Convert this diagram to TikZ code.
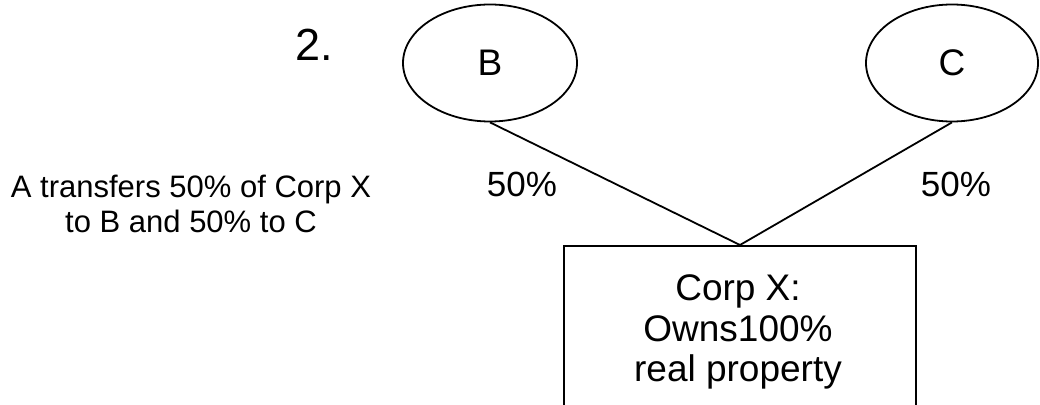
\documentclass[tikz,border=0pt]{standalone}
\usepackage{fontspec}
\setmainfont{Liberation Sans}
\usetikzlibrary{shapes.geometric}
\begin{document}
\begin{tikzpicture}[x=1pt,y=1pt,
  line/.style={draw=black, line width=1.8pt},
  owner/.style={ellipse, line, inner sep=0pt, font=\fontsize{37}{41}\selectfont},
  corpbox/.style={rectangle, line, inner sep=0pt},
  pct/.style={font=\fontsize{35}{40}\selectfont},
  note/.style={align=center, font=\fontsize{31}{35}\selectfont}]
  \useasboundingbox (0,0) rectangle (1040,404);
  \clip (0,0) rectangle (1040,404);
  \fill[white] (0,0) rectangle (1040,404);

  % step number
  \node[font=\fontsize{45}{50}\selectfont] (num) at (314,359) {2.};

  % shareholders
  \node[owner, minimum width=174pt, minimum height=117pt] (B) at (490,341) {B};
  \node[owner, minimum width=172pt, minimum height=117pt] (C) at (952,341) {C};

  % the corporation (box runs off the bottom edge)
  \node[corpbox, anchor=north, minimum width=352pt, minimum height=230pt] (X) at (740,159) {};
  \node[align=center, font=\fontsize{37}{40.3}\selectfont] (Xtext) at (738,72)
    {Corp X:\\ Owns100\%\\ real property};

  % ownership lines
  \draw[line] (B.south) -- (X.north);
  \draw[line] (C.south) -- (X.north);

  % percentages
  \node[pct] (pB) at (522,220) {50\%};
  \node[pct] (pC) at (956,220) {50\%};

  % description
  \node[note] (desc) at (191,200) {A transfers 50\% of Corp X\\ to B and 50\% to C};
\end{tikzpicture}
\end{document}
